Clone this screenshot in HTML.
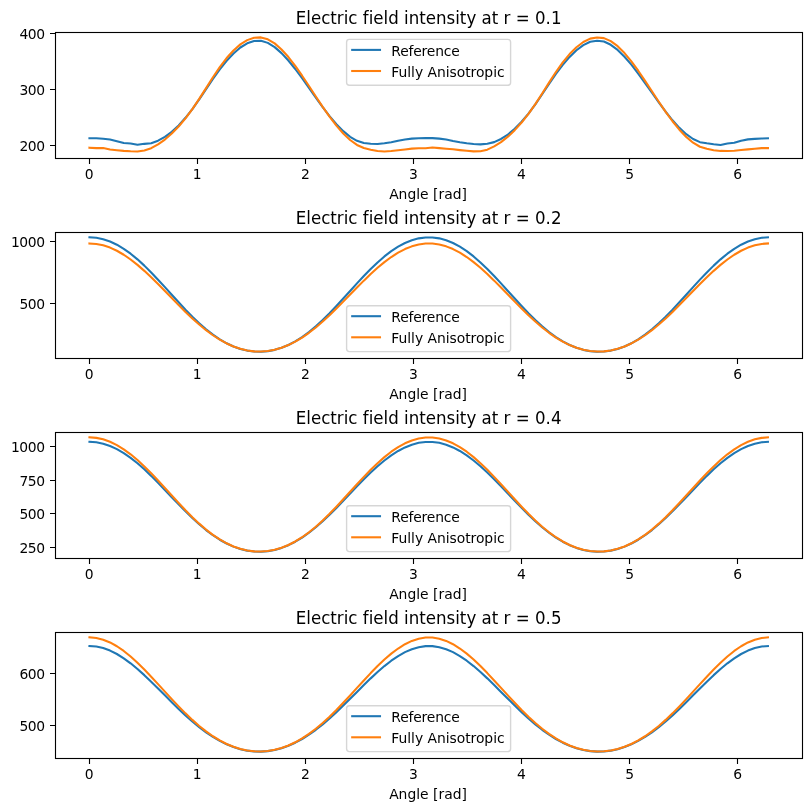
<!DOCTYPE html>
<html><head><meta charset="utf-8"><title>Electric field intensity</title>
<style>html,body{margin:0;padding:0;background:#fff}svg{display:block}</style></head>
<body>
<svg width="811" height="811" viewBox="0 0 811 811">
<rect width="811" height="811" fill="#fff"/>
<defs><clipPath id="c0"><rect x="55.5" y="32.5" width="747.0" height="126"/></clipPath><clipPath id="c1"><rect x="55.5" y="232.5" width="747.0" height="126"/></clipPath><clipPath id="c2"><rect x="55.5" y="432.5" width="747.0" height="126"/></clipPath><clipPath id="c3"><rect x="55.5" y="632.5" width="747.0" height="126"/></clipPath></defs>
<g clip-path="url(#c0)" fill="none" stroke-width="2.08" stroke-linejoin="round" stroke-linecap="square">
<path d="M89.45 138.20L96.31 138.22L103.17 138.68L110.03 139.57L116.89 141.17L123.75 142.96L130.61 143.47L137.47 144.69L144.33 143.84L151.19 143.25L158.05 140.71L164.91 136.93L171.77 131.84L178.63 125.43L185.49 117.80L192.35 109.04L199.21 99.31L206.07 89.05L212.93 78.83L219.79 69.27L226.64 60.74L233.50 53.42L240.36 47.50L247.22 43.26L254.08 40.96L260.94 40.67L267.80 42.87L274.66 47.14L281.52 53.14L288.38 60.52L295.24 69.00L302.10 78.23L308.96 87.88L315.82 97.62L322.68 107.16L329.54 116.13L336.40 124.22L343.26 131.18L350.12 136.79L356.98 140.81L363.83 143.01L370.69 143.71L377.55 144.04L384.41 143.26L391.27 142.18L398.13 140.68L404.99 139.42L411.85 138.60L418.71 138.17L425.57 138.02L432.43 138.09L439.29 138.62L446.15 139.53L453.01 141.04L459.87 142.26L466.73 143.27L473.59 144.03L480.45 144.39L487.31 143.78L494.17 142.12L501.02 138.99L507.88 134.56L514.74 128.80L521.60 121.77L528.46 113.56L535.32 104.30L542.18 94.22L549.04 83.89L555.90 73.93L562.76 64.87L569.62 56.92L576.48 50.27L583.34 45.13L590.20 41.72L597.06 40.70L603.92 41.55L610.78 44.80L617.64 49.95L624.50 56.70L631.36 64.66L638.21 73.55L645.07 83.03L651.93 92.75L658.79 102.45L665.65 111.73L672.51 120.30L679.37 127.85L686.23 134.17L693.09 139.01L699.95 142.16L706.81 143.32L713.67 144.27L720.53 144.92L727.39 143.49L734.25 142.80L741.11 140.65L747.97 139.39L754.83 138.84L761.69 138.50L767.95 138.30" stroke="#1f77b4"/>
<path d="M89.45 147.70L96.31 148.09L103.17 148.10L110.03 149.48L116.89 150.19L123.75 150.84L130.61 151.30L137.47 151.46L144.33 150.46L151.19 148.20L158.05 144.40L164.91 139.53L171.77 133.55L178.63 126.49L185.49 118.35L192.35 109.13L199.21 98.91L206.07 88.09L212.93 77.26L219.79 67.07L226.64 58.06L233.50 50.45L240.36 44.40L247.22 40.13L254.08 37.79L260.94 37.39L267.80 39.32L274.66 43.39L281.52 49.43L288.38 57.05L295.24 65.92L302.10 75.71L308.96 86.03L315.82 96.54L322.68 106.86L329.54 116.66L336.40 125.60L343.26 133.46L350.12 139.99L356.98 144.94L363.83 148.07L370.69 149.66L377.55 150.99L384.41 151.50L391.27 151.05L398.13 150.32L404.99 149.48L411.85 148.64L418.71 148.21L425.57 148.32L432.43 147.52L439.29 148.15L446.15 148.69L453.01 149.31L459.87 150.14L466.73 150.82L473.59 151.38L480.45 151.33L487.31 149.65L494.17 146.41L501.02 142.10L507.88 136.68L514.74 130.16L521.60 122.56L528.46 113.88L535.32 104.16L542.18 93.55L549.04 82.64L555.90 72.05L562.76 62.40L569.62 54.07L576.48 47.23L583.34 42.02L590.20 38.60L597.06 37.44L603.92 38.15L610.78 41.15L617.64 46.20L624.50 53.04L631.36 61.35L638.21 70.73L645.07 80.82L651.93 91.28L658.79 101.74L665.65 111.85L672.51 121.25L679.37 129.69L686.23 136.91L693.09 142.68L699.95 146.75L706.81 148.84L713.67 150.21L720.53 150.91L727.39 151.07L734.25 150.72L741.11 150.08L747.97 149.40L754.83 148.71L761.69 148.10L767.95 148.10" stroke="#ff7f0e"/>
</g>
<path d="M89.5 158.5v5.5M197.5 158.5v5.5M305.5 158.5v5.5M413.5 158.5v5.5M521.5 158.5v5.5M629.5 158.5v5.5M737.5 158.5v5.5M55.5 33.5h-5.5M55.5 89.5h-5.5M55.5 145.5h-5.5" stroke="#000" stroke-width="1.11" fill="none"/>
<rect x="55.5" y="32.5" width="747.0" height="126" fill="none" stroke="#000" stroke-width="1.11"/>
<g style="font-family:'DejaVu Sans','Liberation Sans',sans-serif;font-size:13.89px" fill="#000">
<text x="89.15" y="178.80" text-anchor="middle">0</text>
<text x="197.24" y="178.80" text-anchor="middle">1</text>
<text x="305.32" y="178.80" text-anchor="middle">2</text>
<text x="413.40" y="178.80" text-anchor="middle">3</text>
<text x="521.48" y="178.80" text-anchor="middle">4</text>
<text x="629.56" y="178.80" text-anchor="middle">5</text>
<text x="737.64" y="178.80" text-anchor="middle">6</text>
<text x="45.1" y="38.70" text-anchor="end" textLength="25.65">400</text>
<text x="45.1" y="94.70" text-anchor="end" textLength="25.65">300</text>
<text x="45.1" y="150.70" text-anchor="end" textLength="25.65">200</text>
<text x="428" y="199.00" text-anchor="middle">Angle [rad]</text>
</g>
<text transform="translate(428.6 24.00) scale(1 1.075)" text-anchor="middle" style="font-family:'DejaVu Sans','Liberation Sans',sans-serif;font-size:16.67px;font-variant-ligatures:none" fill="#000">Electric field intensity at r = 0.1</text>
<rect x="346.6" y="39.4" width="164" height="45.9" rx="2.78" fill="#fff" fill-opacity="0.8" stroke="#ccc" stroke-opacity="0.8" stroke-width="1.39"/>
<path d="M352.2 49.90h27.8" stroke="#1f77b4" stroke-width="2.08" stroke-linecap="square"/>
<path d="M352.2 71.00h27.8" stroke="#ff7f0e" stroke-width="2.08" stroke-linecap="square"/>
<g style="font-family:'DejaVu Sans','Liberation Sans',sans-serif;font-size:13.89px" fill="#000"><text x="391.3" y="56" textLength="68.5">Reference</text><text x="391.3" y="77" textLength="113.3">Fully Anisotropic</text></g>
<g clip-path="url(#c1)" fill="none" stroke-width="2.08" stroke-linejoin="round" stroke-linecap="square">
<path d="M89.45 237.30L96.31 237.77L103.17 239.18L110.03 241.50L116.89 244.73L123.75 248.81L130.61 253.71L137.47 259.34L144.33 265.62L151.19 272.43L158.05 279.66L164.91 287.14L171.77 294.75L178.63 302.31L185.49 309.68L192.35 316.71L199.21 323.29L206.07 329.31L212.93 334.69L219.79 339.37L226.64 343.31L233.50 346.50L240.36 348.93L247.22 350.61L254.08 351.54L260.94 351.73L267.80 351.17L274.66 349.87L281.52 347.81L288.38 345.00L295.24 341.43L302.10 337.12L308.96 332.08L315.82 326.38L322.68 320.07L329.54 313.24L336.40 306.03L343.26 298.54L350.12 290.94L356.98 283.38L363.83 276.00L370.69 268.97L377.55 262.41L384.41 256.44L391.27 251.17L398.13 246.67L404.99 243.01L411.85 240.22L418.71 238.36L425.57 237.42L432.43 237.42L439.29 238.36L446.15 240.22L453.01 243.01L459.87 246.67L466.73 251.17L473.59 256.44L480.45 262.41L487.31 268.97L494.17 276.00L501.02 283.38L507.88 290.94L514.74 298.54L521.60 306.03L528.46 313.24L535.32 320.07L542.18 326.38L549.04 332.08L555.90 337.12L562.76 341.43L569.62 345.00L576.48 347.81L583.34 349.87L590.20 351.17L597.06 351.73L603.92 351.54L610.78 350.61L617.64 348.93L624.50 346.50L631.36 343.31L638.21 339.37L645.07 334.69L651.93 329.31L658.79 323.29L665.65 316.71L672.51 309.68L679.37 302.31L686.23 294.75L693.09 287.14L699.95 279.66L706.81 272.43L713.67 265.62L720.53 259.34L727.39 253.71L734.25 248.81L741.11 244.73L747.97 241.50L754.83 239.18L761.69 237.77L767.95 237.30" stroke="#1f77b4"/>
<path d="M89.45 243.45L96.31 243.92L103.17 245.31L110.03 247.61L116.89 250.77L123.75 254.76L130.61 259.49L137.47 264.89L144.33 270.86L151.19 277.29L158.05 284.06L164.91 291.05L171.77 298.10L178.63 305.11L185.49 311.93L192.35 318.45L199.21 324.57L206.07 330.19L212.93 335.25L219.79 339.67L226.64 343.43L233.50 346.50L240.36 348.85L247.22 350.49L254.08 351.40L260.94 351.58L267.80 351.03L274.66 349.76L281.52 347.77L288.38 345.06L295.24 341.64L302.10 337.54L308.96 332.80L315.82 327.45L322.68 321.57L329.54 315.24L336.40 308.55L343.26 301.62L350.12 294.57L356.98 287.54L363.83 280.64L370.69 274.03L377.55 267.81L384.41 262.11L391.27 257.03L398.13 252.67L404.99 249.08L411.85 246.35L418.71 244.50L425.57 243.57L432.43 243.57L439.29 244.50L446.15 246.35L453.01 249.08L459.87 252.67L466.73 257.03L473.59 262.11L480.45 267.81L487.31 274.03L494.17 280.64L501.02 287.54L507.88 294.57L514.74 301.62L521.60 308.55L528.46 315.24L535.32 321.57L542.18 327.45L549.04 332.80L555.90 337.54L562.76 341.64L569.62 345.06L576.48 347.77L583.34 349.76L590.20 351.03L597.06 351.58L603.92 351.40L610.78 350.49L617.64 348.85L624.50 346.50L631.36 343.43L638.21 339.67L645.07 335.25L651.93 330.19L658.79 324.57L665.65 318.45L672.51 311.93L679.37 305.11L686.23 298.10L693.09 291.05L699.95 284.06L706.81 277.29L713.67 270.86L720.53 264.89L727.39 259.49L734.25 254.76L741.11 250.77L747.97 247.61L754.83 245.31L761.69 243.92L767.95 243.45" stroke="#ff7f0e"/>
</g>
<path d="M89.5 358.5v5.5M197.5 358.5v5.5M305.5 358.5v5.5M413.5 358.5v5.5M521.5 358.5v5.5M629.5 358.5v5.5M737.5 358.5v5.5M55.5 241.5h-5.5M55.5 303.5h-5.5" stroke="#000" stroke-width="1.11" fill="none"/>
<rect x="55.5" y="232.5" width="747.0" height="126" fill="none" stroke="#000" stroke-width="1.11"/>
<g style="font-family:'DejaVu Sans','Liberation Sans',sans-serif;font-size:13.89px" fill="#000">
<text x="89.15" y="378.80" text-anchor="middle">0</text>
<text x="197.24" y="378.80" text-anchor="middle">1</text>
<text x="305.32" y="378.80" text-anchor="middle">2</text>
<text x="413.40" y="378.80" text-anchor="middle">3</text>
<text x="521.48" y="378.80" text-anchor="middle">4</text>
<text x="629.56" y="378.80" text-anchor="middle">5</text>
<text x="737.64" y="378.80" text-anchor="middle">6</text>
<text x="45.1" y="246.70" text-anchor="end" textLength="34.20">1000</text>
<text x="45.1" y="308.70" text-anchor="end" textLength="25.65">500</text>
<text x="428" y="399.00" text-anchor="middle">Angle [rad]</text>
</g>
<text transform="translate(428.6 224.00) scale(1 1.075)" text-anchor="middle" style="font-family:'DejaVu Sans','Liberation Sans',sans-serif;font-size:16.67px;font-variant-ligatures:none" fill="#000">Electric field intensity at r = 0.2</text>
<rect x="346.6" y="305.7" width="164" height="45.9" rx="2.78" fill="#fff" fill-opacity="0.8" stroke="#ccc" stroke-opacity="0.8" stroke-width="1.39"/>
<path d="M352.2 316.20h27.8" stroke="#1f77b4" stroke-width="2.08" stroke-linecap="square"/>
<path d="M352.2 337.30h27.8" stroke="#ff7f0e" stroke-width="2.08" stroke-linecap="square"/>
<g style="font-family:'DejaVu Sans','Liberation Sans',sans-serif;font-size:13.89px" fill="#000"><text x="391.3" y="322" textLength="68.5">Reference</text><text x="391.3" y="343" textLength="113.3">Fully Anisotropic</text></g>
<g clip-path="url(#c2)" fill="none" stroke-width="2.08" stroke-linejoin="round" stroke-linecap="square">
<path d="M89.45 441.80L96.31 442.26L103.17 443.65L110.03 445.94L116.89 449.10L123.75 453.09L130.61 457.84L137.47 463.29L144.33 469.34L151.19 475.88L158.05 482.79L164.91 489.93L171.77 497.17L178.63 504.35L185.49 511.36L192.35 518.05L199.21 524.32L206.07 530.07L212.93 535.22L219.79 539.72L226.64 543.53L233.50 546.63L240.36 549.00L247.22 550.63L254.08 551.55L260.94 551.73L267.80 551.18L274.66 549.91L281.52 547.90L288.38 545.17L295.24 541.71L302.10 537.55L308.96 532.72L315.82 527.26L322.68 521.24L329.54 514.75L336.40 507.89L343.26 500.78L350.12 493.55L356.98 486.34L363.83 479.30L370.69 472.56L377.55 466.25L384.41 460.49L391.27 455.37L398.13 450.99L404.99 447.41L411.85 444.68L418.71 442.84L425.57 441.92L432.43 441.92L439.29 442.84L446.15 444.68L453.01 447.41L459.87 450.99L466.73 455.37L473.59 460.49L480.45 466.25L487.31 472.56L494.17 479.30L501.02 486.34L507.88 493.55L514.74 500.78L521.60 507.89L528.46 514.75L535.32 521.24L542.18 527.26L549.04 532.72L555.90 537.55L562.76 541.71L569.62 545.17L576.48 547.90L583.34 549.91L590.20 551.18L597.06 551.73L603.92 551.55L610.78 550.63L617.64 549.00L624.50 546.63L631.36 543.53L638.21 539.72L645.07 535.22L651.93 530.07L658.79 524.32L665.65 518.05L672.51 511.36L679.37 504.35L686.23 497.17L693.09 489.93L699.95 482.79L706.81 475.88L713.67 469.34L720.53 463.29L727.39 457.84L734.25 453.09L741.11 449.10L747.97 445.94L754.83 443.65L761.69 442.26L767.95 441.80" stroke="#1f77b4"/>
<path d="M89.45 437.40L96.31 437.89L103.17 439.35L110.03 441.77L116.89 445.10L123.75 449.31L130.61 454.32L137.47 460.06L144.33 466.41L151.19 473.28L158.05 480.51L164.91 487.98L171.77 495.53L178.63 503.01L185.49 510.28L192.35 517.20L199.21 523.66L206.07 529.57L212.93 534.84L219.79 539.43L226.64 543.30L233.50 546.43L240.36 548.83L247.22 550.48L254.08 551.39L260.94 551.58L267.80 551.03L274.66 549.74L281.52 547.72L288.38 544.96L295.24 541.46L302.10 537.22L308.96 532.29L315.82 526.69L322.68 520.49L329.54 513.79L336.40 506.68L343.26 499.29L350.12 491.75L356.98 484.23L363.83 476.86L370.69 469.79L377.55 463.16L384.41 457.10L391.27 451.72L398.13 447.10L404.99 443.32L411.85 440.44L418.71 438.50L425.57 437.52L432.43 437.52L439.29 438.50L446.15 440.44L453.01 443.32L459.87 447.10L466.73 451.72L473.59 457.10L480.45 463.16L487.31 469.79L494.17 476.86L501.02 484.23L507.88 491.75L514.74 499.29L521.60 506.68L528.46 513.79L535.32 520.49L542.18 526.69L549.04 532.29L555.90 537.22L562.76 541.46L569.62 544.96L576.48 547.72L583.34 549.74L590.20 551.03L597.06 551.58L603.92 551.39L610.78 550.48L617.64 548.83L624.50 546.43L631.36 543.30L638.21 539.43L645.07 534.84L651.93 529.57L658.79 523.66L665.65 517.20L672.51 510.28L679.37 503.01L686.23 495.53L693.09 487.98L699.95 480.51L706.81 473.28L713.67 466.41L720.53 460.06L727.39 454.32L734.25 449.31L741.11 445.10L747.97 441.77L754.83 439.35L761.69 437.89L767.95 437.40" stroke="#ff7f0e"/>
</g>
<path d="M89.5 558.5v5.5M197.5 558.5v5.5M305.5 558.5v5.5M413.5 558.5v5.5M521.5 558.5v5.5M629.5 558.5v5.5M737.5 558.5v5.5M55.5 446.5h-5.5M55.5 480.5h-5.5M55.5 513.5h-5.5M55.5 547.5h-5.5" stroke="#000" stroke-width="1.11" fill="none"/>
<rect x="55.5" y="432.5" width="747.0" height="126" fill="none" stroke="#000" stroke-width="1.11"/>
<g style="font-family:'DejaVu Sans','Liberation Sans',sans-serif;font-size:13.89px" fill="#000">
<text x="89.15" y="578.80" text-anchor="middle">0</text>
<text x="197.24" y="578.80" text-anchor="middle">1</text>
<text x="305.32" y="578.80" text-anchor="middle">2</text>
<text x="413.40" y="578.80" text-anchor="middle">3</text>
<text x="521.48" y="578.80" text-anchor="middle">4</text>
<text x="629.56" y="578.80" text-anchor="middle">5</text>
<text x="737.64" y="578.80" text-anchor="middle">6</text>
<text x="45.1" y="451.70" text-anchor="end" textLength="34.20">1000</text>
<text x="45.1" y="485.70" text-anchor="end" textLength="25.65">750</text>
<text x="45.1" y="518.70" text-anchor="end" textLength="25.65">500</text>
<text x="45.1" y="552.70" text-anchor="end" textLength="25.65">250</text>
<text x="428" y="599.00" text-anchor="middle">Angle [rad]</text>
</g>
<text transform="translate(428.6 424.00) scale(1 1.075)" text-anchor="middle" style="font-family:'DejaVu Sans','Liberation Sans',sans-serif;font-size:16.67px;font-variant-ligatures:none" fill="#000">Electric field intensity at r = 0.4</text>
<rect x="346.6" y="505.7" width="164" height="45.9" rx="2.78" fill="#fff" fill-opacity="0.8" stroke="#ccc" stroke-opacity="0.8" stroke-width="1.39"/>
<path d="M352.2 516.20h27.8" stroke="#1f77b4" stroke-width="2.08" stroke-linecap="square"/>
<path d="M352.2 537.30h27.8" stroke="#ff7f0e" stroke-width="2.08" stroke-linecap="square"/>
<g style="font-family:'DejaVu Sans','Liberation Sans',sans-serif;font-size:13.89px" fill="#000"><text x="391.3" y="522" textLength="68.5">Reference</text><text x="391.3" y="543" textLength="113.3">Fully Anisotropic</text></g>
<g clip-path="url(#c3)" fill="none" stroke-width="2.08" stroke-linejoin="round" stroke-linecap="square">
<path d="M89.45 646.00L96.31 646.52L103.17 648.05L110.03 650.56L116.89 654.00L123.75 658.29L130.61 663.31L137.47 668.97L144.33 675.14L151.19 681.68L158.05 688.47L164.91 695.35L171.77 702.21L178.63 708.93L185.49 715.38L192.35 721.49L199.21 727.15L206.07 732.31L212.93 736.92L219.79 740.93L226.64 744.32L233.50 747.08L240.36 749.19L247.22 750.65L254.08 751.47L260.94 751.63L267.80 751.14L274.66 750.00L281.52 748.22L288.38 745.78L295.24 742.70L302.10 739.00L308.96 734.69L315.82 729.80L322.68 724.38L329.54 718.48L336.40 712.19L343.26 705.60L350.12 698.79L356.98 691.90L363.83 685.05L370.69 678.37L377.55 672.00L384.41 666.07L391.27 660.71L398.13 656.05L404.99 652.17L411.85 649.19L418.71 647.16L425.57 646.13L432.43 646.13L439.29 647.16L446.15 649.19L453.01 652.17L459.87 656.05L466.73 660.71L473.59 666.07L480.45 672.00L487.31 678.37L494.17 685.05L501.02 691.90L507.88 698.79L514.74 705.60L521.60 712.19L528.46 718.48L535.32 724.38L542.18 729.80L549.04 734.69L555.90 739.00L562.76 742.70L569.62 745.78L576.48 748.22L583.34 750.00L590.20 751.14L597.06 751.63L603.92 751.47L610.78 750.65L617.64 749.19L624.50 747.08L631.36 744.32L638.21 740.93L645.07 736.92L651.93 732.31L658.79 727.15L665.65 721.49L672.51 715.38L679.37 708.93L686.23 702.21L693.09 695.35L699.95 688.47L706.81 681.68L713.67 675.14L720.53 668.97L727.39 663.31L734.25 658.29L741.11 654.00L747.97 650.56L754.83 648.05L761.69 646.52L767.95 646.00" stroke="#1f77b4"/>
<path d="M89.45 637.40L96.31 637.97L103.17 639.67L110.03 642.45L116.89 646.25L123.75 650.98L130.61 656.53L137.47 662.77L144.33 669.55L151.19 676.73L158.05 684.16L164.91 691.67L171.77 699.13L178.63 706.40L185.49 713.36L192.35 719.90L199.21 725.94L206.07 731.40L212.93 736.25L219.79 740.44L226.64 743.97L233.50 746.81L240.36 748.98L247.22 750.48L254.08 751.31L260.94 751.48L267.80 750.98L274.66 749.82L281.52 747.98L288.38 745.47L295.24 742.29L302.10 738.43L308.96 733.90L315.82 728.74L322.68 722.98L329.54 716.69L336.40 709.93L343.26 702.80L350.12 695.42L356.98 687.92L363.83 680.43L370.69 673.10L377.55 666.10L384.41 659.57L391.27 653.66L398.13 648.51L404.99 644.23L411.85 640.93L418.71 638.68L425.57 637.54L432.43 637.54L439.29 638.68L446.15 640.93L453.01 644.23L459.87 648.51L466.73 653.66L473.59 659.57L480.45 666.10L487.31 673.10L494.17 680.43L501.02 687.92L507.88 695.42L514.74 702.80L521.60 709.93L528.46 716.69L535.32 722.98L542.18 728.74L549.04 733.90L555.90 738.43L562.76 742.29L569.62 745.47L576.48 747.98L583.34 749.82L590.20 750.98L597.06 751.48L603.92 751.31L610.78 750.48L617.64 748.98L624.50 746.81L631.36 743.97L638.21 740.44L645.07 736.25L651.93 731.40L658.79 725.94L665.65 719.90L672.51 713.36L679.37 706.40L686.23 699.13L693.09 691.67L699.95 684.16L706.81 676.73L713.67 669.55L720.53 662.77L727.39 656.53L734.25 650.98L741.11 646.25L747.97 642.45L754.83 639.67L761.69 637.97L767.95 637.40" stroke="#ff7f0e"/>
</g>
<path d="M89.5 758.5v5.5M197.5 758.5v5.5M305.5 758.5v5.5M413.5 758.5v5.5M521.5 758.5v5.5M629.5 758.5v5.5M737.5 758.5v5.5M55.5 673.5h-5.5M55.5 725.5h-5.5" stroke="#000" stroke-width="1.11" fill="none"/>
<rect x="55.5" y="632.5" width="747.0" height="126" fill="none" stroke="#000" stroke-width="1.11"/>
<g style="font-family:'DejaVu Sans','Liberation Sans',sans-serif;font-size:13.89px" fill="#000">
<text x="89.15" y="778.80" text-anchor="middle">0</text>
<text x="197.24" y="778.80" text-anchor="middle">1</text>
<text x="305.32" y="778.80" text-anchor="middle">2</text>
<text x="413.40" y="778.80" text-anchor="middle">3</text>
<text x="521.48" y="778.80" text-anchor="middle">4</text>
<text x="629.56" y="778.80" text-anchor="middle">5</text>
<text x="737.64" y="778.80" text-anchor="middle">6</text>
<text x="45.1" y="678.70" text-anchor="end" textLength="25.65">600</text>
<text x="45.1" y="730.70" text-anchor="end" textLength="25.65">500</text>
<text x="428" y="799.00" text-anchor="middle">Angle [rad]</text>
</g>
<text transform="translate(428.6 624.00) scale(1 1.075)" text-anchor="middle" style="font-family:'DejaVu Sans','Liberation Sans',sans-serif;font-size:16.67px;font-variant-ligatures:none" fill="#000">Electric field intensity at r = 0.5</text>
<rect x="346.6" y="705.7" width="164" height="45.9" rx="2.78" fill="#fff" fill-opacity="0.8" stroke="#ccc" stroke-opacity="0.8" stroke-width="1.39"/>
<path d="M352.2 716.20h27.8" stroke="#1f77b4" stroke-width="2.08" stroke-linecap="square"/>
<path d="M352.2 737.30h27.8" stroke="#ff7f0e" stroke-width="2.08" stroke-linecap="square"/>
<g style="font-family:'DejaVu Sans','Liberation Sans',sans-serif;font-size:13.89px" fill="#000"><text x="391.3" y="722" textLength="68.5">Reference</text><text x="391.3" y="743" textLength="113.3">Fully Anisotropic</text></g>
</svg>
</body></html>
